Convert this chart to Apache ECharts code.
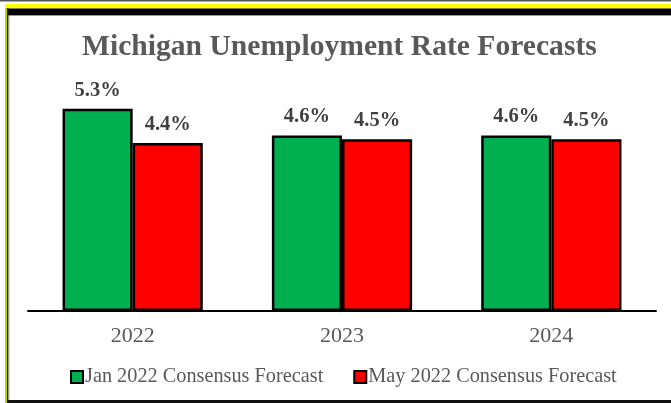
<!DOCTYPE html>
<html>
<head>
<meta charset="utf-8">
<script src="https://cdn.jsdelivr.net/npm/echarts@6/dist/echarts.min.js"></script>
<style>
html,body{margin:0;padding:0;background:#fff;}
#c{width:671px;height:403px;}
</style>
</head>
<body>
<div id="c"></div>
<script>
const categories = ['2022', '2023', '2024'];
const janForecast = [5.3, 4.6, 4.6];
const mayForecast = [4.4, 4.5, 4.5];
const seriesNames = ['Jan 2022 Consensus Forecast', 'May 2022 Consensus Forecast'];

const chart = echarts.init(document.getElementById('c'));
const serif = '"Liberation Serif","Times New Roman",serif';
const labelStyle = {
  show: true, position: 'top', distance: 8,
  formatter: p => p.value.toFixed(1) + '%',
  fontFamily: serif, fontWeight: 'bold', fontSize: 20.5, color: '#404040'
};
chart.setOption({
  animation: false,
  backgroundColor: '#fff',
  title: {
    text: 'Michigan Unemployment Rate Forecasts',
    left: 82, top: 32, padding: 0,
    textStyle: { fontFamily: serif, fontWeight: 'bold', fontSize: 29.6, color: '#595959' }
  },
  legend: {
    bottom: 16, left: 70, padding: 0,
    itemWidth: 12, itemHeight: 12, itemGap: 30,
    textStyle: { fontFamily: serif, fontSize: 20.3, color: '#595959', padding: [0, 0, 0, -3] },
    data: seriesNames.map(n => ({ name: n, icon: 'rect' }))
  },
  grid: { left: 28, right: 15, top: 82, bottom: 92 },
  xAxis: {
    type: 'category', data: categories,
    axisLine: { lineStyle: { color: '#000', width: 2 } },
    axisTick: { show: false },
    axisLabel: { fontFamily: serif, fontSize: 22, color: '#595959', margin: 14 }
  },
  yAxis: { type: 'value', min: 0, max: 6, show: false, splitLine: { show: false } },
  series: [
    {
      name: seriesNames[0], type: 'bar', data: janForecast,
      barGap: '0%', barCategoryGap: '33%',
      itemStyle: { color: '#00B050', borderColor: '#000', borderWidth: 2.5 },
      label: labelStyle
    },
    {
      name: seriesNames[1], type: 'bar', data: mayForecast,
      itemStyle: { color: '#FF0000', borderColor: '#000', borderWidth: 2.5 },
      label: labelStyle
    }
  ],
  graphic: [
    { type: 'rect', shape: { x: 0, y: 0, width: 671, height: 1.5 }, style: { fill: '#555' }, silent: true },
    { type: 'rect', shape: { x: 5, y: 4, width: 666, height: 4.5 }, style: { fill: '#FFFF00' }, silent: true },
    { type: 'rect', shape: { x: 5, y: 8.5, width: 666, height: 6.5 }, style: { fill: '#000' }, silent: true },
    { type: 'rect', shape: { x: 8, y: 15, width: 663, height: 1 }, style: { fill: '#999' }, silent: true },
    { type: 'rect', shape: { x: 5, y: 8, width: 2, height: 395 }, style: { fill: '#C8C800' }, silent: true },
    { type: 'rect', shape: { x: 7, y: 8, width: 1.5, height: 395 }, style: { fill: '#222' }, silent: true },
    { type: 'rect', shape: { x: 8.5, y: 16, width: 1, height: 387 }, style: { fill: '#aaa' }, silent: true },
    { type: 'rect', shape: { x: 7, y: 400, width: 664, height: 3 }, style: { fill: '#111' }, silent: true }
  ]
});
</script>
</body>
</html>
